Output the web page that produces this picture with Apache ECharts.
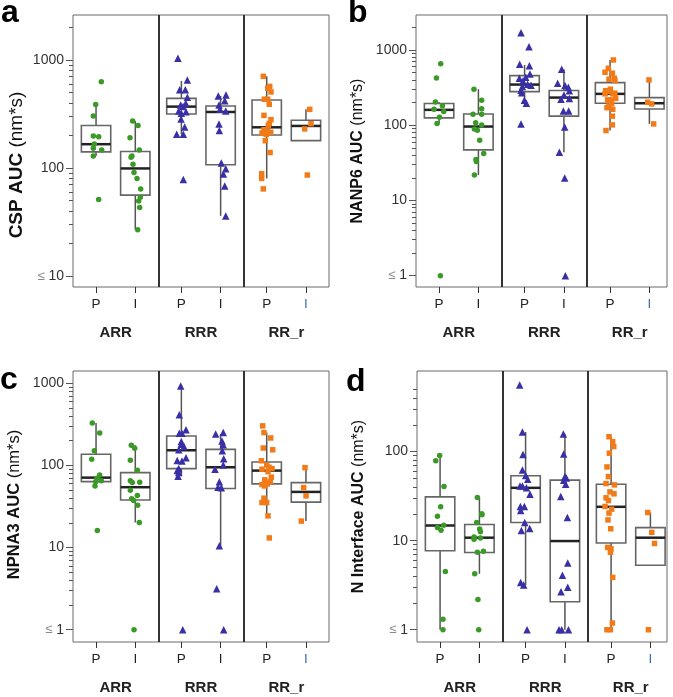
<!DOCTYPE html>
<html><head><meta charset="utf-8">
<script src="https://cdn.jsdelivr.net/npm/echarts@6/dist/echarts.min.js"></script>
<style>html,body{margin:0;padding:0;background:#fff}#c{width:673px;height:697px}</style>
</head><body><div id="c"></div>
<script>
// ---------- categories / labels ----------
const groups = ['ARR', 'RRR', 'RR_r'];
const subGroups = ['P', 'I'];
const yTitles = ['CSP AUC', 'NANP6 AUC', 'NPNA3 AUC', 'N Interface AUC'];
const yUnit = '(nm*s)';
const panelLetters = ['a', 'b', 'c', 'd'];

// ---------- tick values ----------
const majorTicksA = [10, 100, 1000];
const minorTicksA = [20, 30, 40, 50, 60, 70, 80, 90, 200, 300, 400, 500, 600, 700, 800, 900, 2000];
const majorTicksB = [1, 10, 100, 1000];
const minorTicksB = [2, 3, 4, 5, 6, 7, 8, 9, 20, 30, 40, 50, 60, 70, 80, 90, 200, 300, 400, 500, 600, 700, 800, 900, 2000];
const majorTicksC = [1, 10, 100, 1000];
const minorTicksC = [2, 3, 4, 5, 6, 7, 8, 9, 20, 30, 40, 50, 60, 70, 80, 90, 200, 300, 400, 500, 600, 700, 800, 900];
const majorTicksD = [1, 10, 100];
const minorTicksD = [2, 3, 4, 5, 6, 7, 8, 9, 20, 30, 40, 50, 60, 70, 80, 90, 200, 300, 400, 500];

// ---------- panel a: CSP ----------  points: [x position, value]
const cspARR_P = [[0.332,630],[0.266,388],[0.238,303],[0.238,198],[0.301,195],[0.25,167],[0.238,152],[0.336,147],[0.238,129],[0.301,51]];
const cspARR_I = [[0.699,272],[0.762,247],[0.668,190],[0.777,147],[0.691,129],[0.68,126],[0.703,108],[0.715,91],[0.75,80],[0.793,64],[0.789,53.5],[0.77,49.5],[0.781,43],[0.758,26.8]];
const cspRRR_P = [[1.23,1037],[1.34,653],[1.25,531],[1.316,531],[1.34,451],[1.262,383],[1.321,397],[1.289,370],[1.239,337],[1.324,332],[1.269,321],[1.266,284],[1.309,240],[1.215,205],[1.293,205],[1.293,78]];
const cspRRR_I = [[1.703,464],[1.793,474],[1.711,383],[1.778,420],[1.723,349],[1.79,337],[1.711,255],[1.715,222],[1.738,111],[1.79,98.6],[1.762,88],[1.778,68],[1.79,36]];
const cspRRr_P = [[2.23,706],[2.305,570],[2.282,547],[2.32,506],[2.242,433],[2.282,433],[2.30,389],[2.238,307],[2.32,280],[2.30,259],[2.289,248],[2.238,226],[2.277,219],[2.317,214],[2.215,211],[2.265,205],[2.254,179],[2.309,139],[2.211,88.5],[2.211,80],[2.23,64]];
const cspRRr_I = [[2.774,349],[2.789,257],[2.715,230],[2.746,86]];
// box stats per category: [low whisker, q1, median, q3, high whisker]
const cspBox = [[129,141,166,247,388],[26.8,56,99,142,272],[205,316,370,441,640],[36,107,330,375,464],[80,202,238,426,706],[179,179,245,277,349]];

// ---------- panel b: NANP6 ----------
const nanp6ARR_P = [[0.289,658],[0.239,425],[0.227,204],[0.309,182],[0.211,163],[0.324,152],[0.274,128],[0.246,105],[0.285,1]];
const nanp6ARR_I = [[0.678,301],[0.768,215],[0.768,166],[0.667,140],[0.768,140],[0.698,108],[0.768,101],[0.683,89],[0.718,86],[0.745,63],[0.792,42],[0.702,35],[0.706,33],[0.683,21.7]];
const nanp6RRR_P = [[1.228,1700],[1.322,1106],[1.213,646],[1.326,619],[1.333,480],[1.283,433],[1.209,421],[1.251,387],[1.306,350],[1.345,340],[1.244,326],[1.228,291],[1.236,271],[1.268,215],[1.291,196],[1.228,104]];
const nanp6RRR_I = [[1.704,554],[1.657,361],[1.743,336],[1.782,319],[1.794,288],[1.731,253],[1.696,221],[1.794,226],[1.724,155],[1.786,155],[1.739,95],[1.677,43.8],[1.739,19.8],[1.747,1]];
const nanp6RRr_P = [[2.309,737],[2.25,571],[2.211,506],[2.297,491],[2.32,421],[2.257,408],[2.327,391],[2.219,288],[2.274,301],[2.25,280],[2.327,266],[2.304,261],[2.211,261],[2.281,217],[2.336,228],[2.242,217],[2.289,196],[2.257,180],[2.234,171],[2.301,163],[2.297,132],[2.297,101],[2.222,85]];
const nanp6RRr_I = [[2.725,400],[2.71,202],[2.757,192],[2.78,104]];
const nanp6Box = [[105,125,160,194,204],[21.7,47,96,141,301],[196,280,347,456,632],[43.8,132,233,289,554],[85,196,261,368,737],[104,164,196,233,400]];

// ---------- panel c: NPNA3 ----------
const npna3ARR_P = [[0.226,329],[0.313,249],[0.25,151],[0.219,119],[0.313,76.7],[0.281,69.9],[0.332,65.3],[0.266,63.5],[0.258,56.3],[0.285,16.1]];
const npna3ARR_I = [[0.683,176],[0.723,162],[0.672,116],[0.754,87.4],[0.672,64.9],[0.695,61.8],[0.782,62.5],[0.672,50],[0.754,43],[0.688,39.2],[0.711,37.3],[0.758,32.8],[0.777,20.2],[0.715,1]];
const npna3RRR_P = [[1.262,927],[1.246,415],[1.324,271],[1.246,247],[1.277,247],[1.269,195],[1.301,170],[1.269,181],[1.239,155],[1.324,124],[1.277,113],[1.222,115],[1.239,91.5],[1.222,86.5],[1.239,81.8],[1.231,74],[1.286,1]];
const npna3RRR_I = [[1.672,242],[1.761,251],[1.746,199],[1.761,178],[1.75,151],[1.766,121],[1.664,90],[1.761,101],[1.715,63.5],[1.699,54.3],[1.738,53.3],[1.715,10.5],[1.684,3.15],[1.766,1]];
const npna3RRr_P = [[2.223,303],[2.238,251],[2.317,216],[2.23,163],[2.34,155],[2.207,114],[2.27,101],[2.297,95],[2.215,90],[2.332,91.5],[2.285,84],[2.324,72],[2.247,66.7],[2.312,63.5],[2.215,58.5],[2.277,59.6],[2.247,56.3],[2.238,39.9],[2.215,35.3],[2.27,35.3],[2.285,24.3],[2.30,13.1]];
const npna3RRr_I = [[2.719,94],[2.703,53.7],[2.731,42.6],[2.676,21]];
const npna3Box = [[63.5,63.5,71,137,329],[20.2,38,54.3,81.8,176],[74,91.4,153,228,927],[10.5,52.3,95,157,242],[24.3,59.6,86.5,110,251],[21,35.7,47.6,61.8,94]];

// ---------- panel d: N Interface ----------
const nintARR_P = [[0.265,90.2],[0.219,79.2],[0.316,40.5],[0.277,24],[0.239,18.8],[0.312,14.9],[0.239,14.1],[0.281,13.1],[0.332,4.5],[0.304,1.31],[0.304,1]];
const nintARR_I = [[0.706,30.5],[0.757,20],[0.76,19.5],[0.698,16],[0.733,13.5],[0.742,12.6],[0.667,11],[0.742,10.7],[0.667,10.4],[0.777,7.6],[0.706,7.4],[0.675,4.25],[0.713,2.19],[0.722,1]];
const nintRRR_P = [[1.201,560],[1.233,166],[1.24,92.6],[1.233,62.3],[1.271,53.8],[1.295,49],[1.205,41.2],[1.233,41],[1.28,39.2],[1.322,33.3],[1.209,24.2],[1.256,24.2],[1.213,21.8],[1.26,16],[1.221,13],[1.318,13.7],[1.213,3.4],[1.248,3.18],[1.287,1]];
const nintRRR_I = [[1.712,158],[1.716,94.2],[1.731,52.5],[1.747,50.7],[1.716,47.8],[1.739,43],[1.681,31.3],[1.759,18.2],[1.763,5.6],[1.701,4.1],[1.763,3.0],[1.684,2.67],[1.661,1],[1.692,1],[1.771,1]];
const nintRRr_P = [[2.246,147],[2.289,129],[2.301,114],[2.25,96],[2.222,67.3],[2.239,52.5],[2.211,43.8],[2.309,42.3],[2.257,35.3],[2.304,33.6],[2.211,30.3],[2.239,28.2],[2.199,24.2],[2.277,22.6],[2.246,20.4],[2.234,17.1],[2.266,13.6],[2.23,8.4],[2.269,8.1],[2.262,7.4],[2.289,3.87],[2.285,1.19],[2.222,1],[2.262,1]];
const nintRRr_I = [[2.699,20.7],[2.746,12.4],[2.778,9.3],[2.707,1]];
const nintBox = [[1,7.7,14.8,31,90],[4.25,7.36,10.8,15.2,30.5],[3.18,16,39.2,53.5,166],[1,2.06,9.9,47.8,158],[1,9.4,24,43,147],[5.3,5.3,10.8,14,20.7]];

// ---------- assembly ----------
const FONT = '"Liberation Sans", Arial, Helvetica, sans-serif';
const groupColors = ['#3b9a27', '#3a30a6', '#f27b18'];
const groupSymbols = ['circle', 'triangle', 'rect'];
const groupSymbolSizes = [5.5, 7.5, 5.5];
const subPos = [0.27, 0.73];
const catPositions = [];
const catLabels = [];
groups.forEach((g, gi) => subGroups.forEach((s, si) => { catPositions.push(gi + subPos[si]); catLabels.push(s); }));

const panels = [
  { grid: {left: 73, top: 15, width: 256, height: 272}, xMax: 3, yMin: 7.9, yMax: 2610, major: majorTicksA, minor: minorTicksA,
    pts: [[cspARR_P, cspARR_I], [cspRRR_P, cspRRR_I], [cspRRr_P, cspRRr_I]], box: cspBox, nameSize: 19, nameGap: 47, namePad: [0, 28, 0, 0], letterPos: [1, -3] },
  { grid: {left: 416, top: 15, width: 251, height: 272}, xMax: 2.936, yMin: 0.706, yMax: 2920, major: majorTicksB, minor: minorTicksB,
    pts: [[nanp6ARR_P, nanp6ARR_I], [nanp6RRR_P, nanp6RRR_I], [nanp6RRr_P, nanp6RRr_I]], box: nanp6Box, nameSize: 16, nameGap: 50, namePad: [0, 0, 0, 0], letterPos: [348, -3] },
  { grid: {left: 73, top: 371, width: 256, height: 271}, xMax: 3, yMin: 0.708, yMax: 1412, major: majorTicksC, minor: minorTicksC,
    pts: [[npna3ARR_P, npna3ARR_I], [npna3RRR_P, npna3RRR_I], [npna3RRr_P, npna3RRr_I]], box: npna3Box, nameSize: 16.5, nameGap: 50, namePad: [0, 0, 0, 4], letterPos: [0, 364] },
  { grid: {left: 417, top: 371, width: 250, height: 271}, xMax: 2.924, yMin: 0.728, yMax: 804, major: majorTicksD, minor: minorTicksD,
    pts: [[nintARR_P, nintARR_I], [nintRRR_P, nintRRR_I], [nintRRr_P, nintRRr_I]], box: nintBox, nameSize: 16, nameGap: 50, namePad: [0, 0, 0, 0], letterPos: [346, 366] }
];

const grids = [], xAxes = [], yAxes = [], series = [], graphics = [];

panels.forEach((p, pi) => {
  grids.push(Object.assign({ show: true, borderColor: '#6a6a6a', borderWidth: 1, backgroundColor: '#fff', containLabel: false }, p.grid));
  // P / I category axis
  xAxes.push({
    type: 'value', gridIndex: pi, min: 0, max: p.xMax, position: 'bottom',
    axisLine: { show: false }, splitLine: { show: false },
    axisTick: { show: true, customValues: catPositions, length: 6, lineStyle: { color: '#333', width: 1 } },
    axisLabel: {
      show: true, customValues: catPositions, margin: 10, fontFamily: FONT, fontSize: 13.5, color: '#222',
      formatter: v => {
        const i = catPositions.findIndex(c => Math.abs(c - v) < 1e-6);
        if (i < 0) return '';
        return i === catPositions.length - 1 ? '{blue|' + catLabels[i] + '}' : catLabels[i];
      },
      rich: { blue: { color: '#3f6db6', fontFamily: FONT, fontSize: 13.5 } }
    }
  });
  // group axis
  xAxes.push({
    type: 'value', gridIndex: pi, min: 0, max: p.xMax, position: 'bottom',
    axisLine: { show: false }, splitLine: { show: false }, axisTick: { show: false },
    axisLabel: {
      show: true, customValues: [0.5, 1.5, 2.5], margin: 38, fontFamily: FONT, fontSize: 15, fontWeight: 'bold', color: '#222',
      formatter: v => groups[Math.floor(v)] || ''
    }
  });
  // major y axis
  yAxes.push({
    type: 'log', logBase: 10, gridIndex: pi, min: p.yMin, max: p.yMax, position: 'left',
    axisLine: { show: false }, splitLine: { show: false },
    axisTick: { show: true, customValues: p.major, length: 7, lineStyle: { color: '#555', width: 1 } },
    axisLabel: {
      show: true, customValues: p.major, margin: 9, fontFamily: FONT, fontSize: 14, color: '#333',
      formatter: v => { const r = Math.round(v * 1000) / 1000; return r === p.major[0] ? '{le|≤} ' + r : String(r); },
      rich: { le: { color: '#888', fontFamily: FONT, fontSize: 13 } }
    },
    name: '{b|' + yTitles[pi] + ' }{n|' + yUnit + '}', nameLocation: 'middle', nameRotate: 90, nameGap: p.nameGap,
    nameTextStyle: {
      fontFamily: FONT, color: '#111', padding: p.namePad,
      rich: { b: { fontWeight: 'bold', fontSize: p.nameSize, fontFamily: FONT, color: '#111' },
              n: { fontWeight: 'normal', fontSize: p.nameSize, fontFamily: FONT, color: '#111' } }
    }
  });
  // minor y ticks
  yAxes.push({
    type: 'log', logBase: 10, gridIndex: pi, min: p.yMin, max: p.yMax, position: 'left',
    axisLine: { show: false }, splitLine: { show: false }, axisLabel: { show: false },
    axisTick: { show: true, customValues: p.minor, length: 4, lineStyle: { color: '#555', width: 1 } }
  });

  // boxes
  const boxData = p.box.map((b, i) => [catPositions[i]].concat(b));
  series.push({
    type: 'custom', xAxisIndex: pi * 2, yAxisIndex: pi * 2, data: boxData, z: 2,
    encode: { x: 0, y: [1, 2, 3, 4, 5] },
    renderItem: (params, api) => {
      const x = api.value(0), lo = api.value(1), q1 = api.value(2), md = api.value(3), q3 = api.value(4), hi = api.value(5);
      const hw = 0.172;
      const tl = api.coord([x - hw, q3]), br = api.coord([x + hw, q1]);
      const cx = api.coord([x, md])[0], ym = api.coord([x, md])[1];
      const ylo = api.coord([x, lo])[1], yhi = api.coord([x, hi])[1];
      return { type: 'group', children: [
        { type: 'line', shape: { x1: cx, y1: yhi, x2: cx, y2: tl[1] }, style: { stroke: '#555', lineWidth: 1.5 } },
        { type: 'line', shape: { x1: cx, y1: br[1], x2: cx, y2: ylo }, style: { stroke: '#555', lineWidth: 1.5 } },
        { type: 'rect', shape: { x: tl[0], y: tl[1], width: br[0] - tl[0], height: br[1] - tl[1] }, style: { fill: 'rgba(255,255,255,0)', stroke: '#666', lineWidth: 1.6 } },
        { type: 'line', shape: { x1: tl[0], y1: ym, x2: br[0], y2: ym }, style: { stroke: '#222', lineWidth: 2.5 } }
      ] };
    }
  });

  // points
  p.pts.forEach((pair, gi) => {
    series.push({
      type: 'scatter', xAxisIndex: pi * 2, yAxisIndex: pi * 2, z: 3,
      data: pair[0].concat(pair[1]),
      symbol: groupSymbols[gi], symbolSize: groupSymbolSizes[gi],
      itemStyle: { color: groupColors[gi], opacity: 1 },
      markLine: gi === 0 ? { silent: true, symbol: 'none', label: { show: false }, z: 4,
        lineStyle: { color: '#333', width: 2, type: 'solid' }, data: [{ xAxis: 1 }, { xAxis: 2 }] } : undefined
    });
  });

  graphics.push({ type: 'text', left: p.letterPos[0], top: p.letterPos[1],
    style: { text: panelLetters[pi], font: 'bold 32px ' + FONT, fill: '#000' } });
});

const chart = echarts.init(document.getElementById('c'), null, { renderer: 'canvas' });
chart.setOption({
  animation: false, backgroundColor: '#fff',
  grid: grids, xAxis: xAxes, yAxis: yAxes, series: series, graphic: graphics
});
</script></body></html>
